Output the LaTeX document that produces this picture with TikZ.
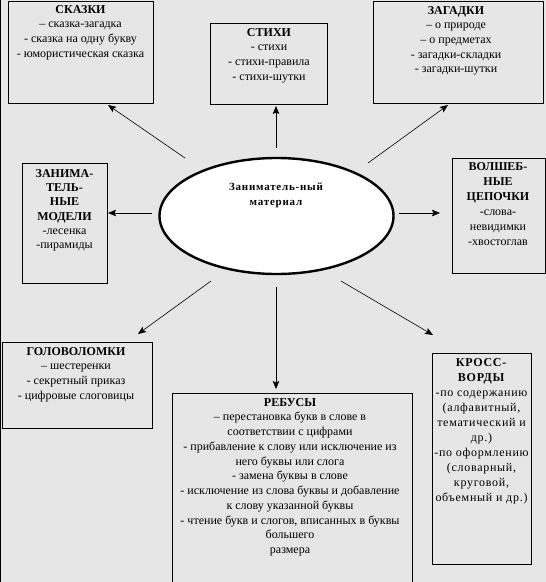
\documentclass[tikz,border=0pt]{standalone}
\usepackage{fontspec}
\setmainfont{Liberation Serif}
\usetikzlibrary{shapes.geometric,arrows.meta}
\definecolor{bggray}{RGB}{230,230,230}
\tikzset{
    box/.style={draw,line width=0.8pt,anchor=north west,inner sep=0pt,outer sep=0pt},
    txt/.style={anchor=north,align=center,inner sep=0pt,font=\fontsize{12}{14.7}\selectfont},
    arr/.style={-{Stealth[length=8pt,width=6.5pt,inset=1.5pt]},line width=0.6pt},
}
\begin{document}
\begin{tikzpicture}[x=1pt,y=-1pt]
    \fill[bggray] (0,0) rectangle (546,582);
    \useasboundingbox (0,0) rectangle (546,582);
    \draw[line width=1.2pt] (0.6,0) -- (0.6,582);

    % boxes
    \node[box,minimum width=145,minimum height=102] (skazki) at (8,1) {};
    \node[box,minimum width=117,minimum height=81] (stihi) at (210,23) {};
    \node[box,minimum width=170,minimum height=102] (zagadki) at (373,1) {};
    \node[box,minimum width=85,minimum height=120] (modeli) at (22,163) {};
    \node[box,minimum width=93,minimum height=115] (cepochki) at (452,158) {};
    \node[box,minimum width=150,minimum height=86] (golovolomki) at (2,342) {};
    \node[box,minimum width=240,minimum height=195] (rebusy) at (172,393) {};
    \node[box,minimum width=99,minimum height=211] (krossvordy) at (432,353) {};

    % texts
    \node[txt] (skazkitxt) at (80.5,5) {\textbf{СКАЗКИ}\\– сказка-загадка\\- сказка на одну букву\\- юмористическая сказка};
    \node[txt] (stihitxt) at (269,28) {\textbf{СТИХИ}\\- стихи\\- стихи-правила\\- стихи-шутки};
    \node[txt] (zagadkitxt) at (456,6) {\textbf{ЗАГАДКИ}\\– о природе\\– о предметах\\- загадки-складки\\- загадки-шутки};
    \node[txt,font=\fontsize{12}{14.3}\selectfont] (modelitxt) at (64.5,169) {\textbf{ЗАНИМА-}\\\textbf{ТЕЛЬ-}\\\textbf{НЫЕ}\\\textbf{МОДЕЛИ}\\-лесенка\\-пирамиды};
    \node[txt,font=\fontsize{12}{15}\selectfont] (cepochkitxt) at (498,162) {\textbf{ВОЛШЕБ-}\\\textbf{НЫЕ}\\\textbf{ЦЕПОЧКИ}\\-слова-\\невидимки\\-хвостоглав};
    \node[txt] (golovolomkitxt) at (76,347) {\textbf{ГОЛОВОЛОМКИ}\\– шестеренки\\- секретный приказ\\- цифровые слоговицы};
    \node[txt,font=\fontsize{12}{14.75}\selectfont] (rebusytxt) at (290,398) {\textbf{РЕБУСЫ}\\– перестановка букв в слове в\\соответствии с цифрами\\- прибавление к слову или исключение из\\него буквы или слога\\- замена буквы в слове\\- исключение из слова буквы и добавление\\к слову указанной буквы\\- чтение букв и слогов, вписанных в буквы\\большего\\размера};
    \node[txt,font=\fontsize{12}{15}\selectfont\addfontfeature{LetterSpace=6}] (krossvordytxt) at (481.5,358) {\textbf{КРОСС-}\\\textbf{ВОРДЫ}\\-по содержанию\\(алфавитный,\\тематический и\\др.)\\-по оформлению\\(словарный,\\круговой,\\объемный и др.)};

    % centre
    \node[ellipse,draw,fill=white,line width=2.4pt,minimum width=234,minimum height=116] (ell) at (276.5,216) {};
    \node[txt,font=\bfseries\fontsize{11}{14.5}\selectfont\addfontfeature{LetterSpace=7}] (elltxt) at (276,183) {Заниматель-ный\\материал};

    % arrows
    \coordinate (s1) at (185,158); \coordinate (e1) at (108,105);
    \coordinate (s2) at (276,148); \coordinate (e2) at (276,106);
    \coordinate (s3) at (368,163); \coordinate (e3) at (448,105);
    \coordinate (s4) at (152,213); \coordinate (e4) at (108,213);
    \coordinate (s5) at (399,213); \coordinate (e5) at (440,213);
    \coordinate (s6) at (211,281); \coordinate (e6) at (138,334);
    \coordinate (s7) at (276,287); \coordinate (e7) at (276,389);
    \coordinate (s8) at (341,281); \coordinate (e8) at (433,335);
    \foreach \i in {1,...,8}
        \draw[arr] (s\i) -- (e\i);
\end{tikzpicture}
\end{document}
